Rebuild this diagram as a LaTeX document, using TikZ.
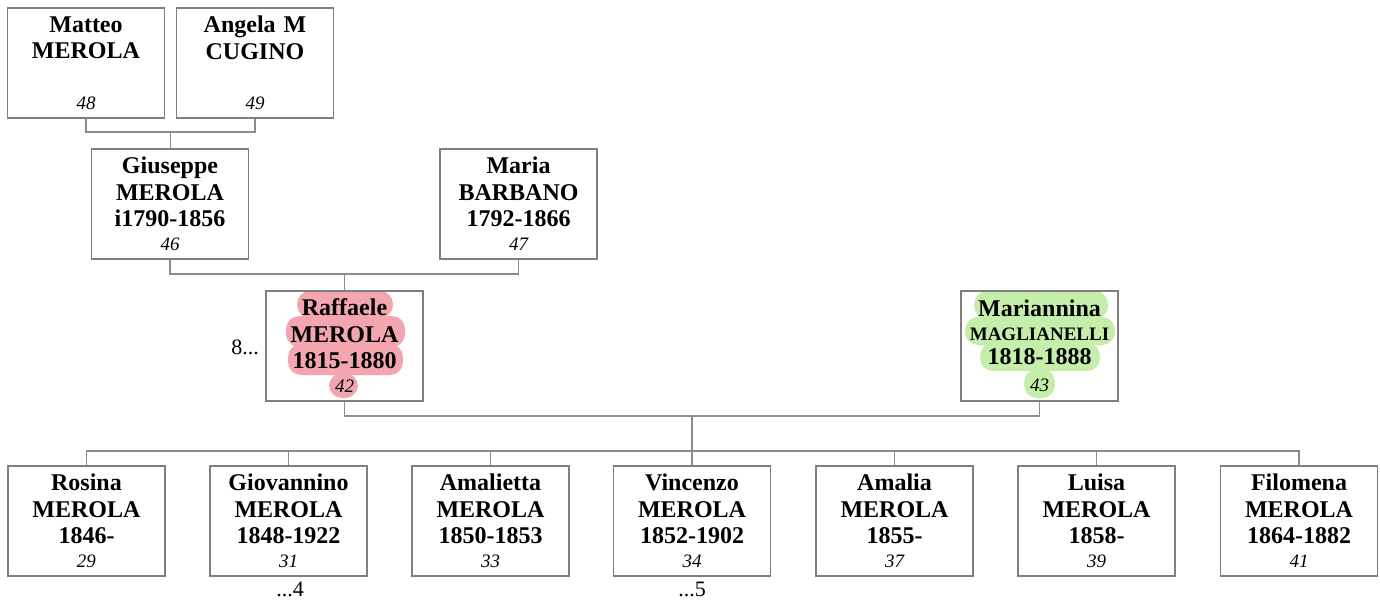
\documentclass[tikz,border=0pt]{standalone}
\usepackage{fontspec}
\setmainfont{Liberation Serif}
\usetikzlibrary{backgrounds}
\definecolor{FTBorder}{HTML}{7F7F7F}
\definecolor{FTLine}{HTML}{8C8C8C}
\definecolor{FTPink}{HTML}{F4A6B0}
\definecolor{FTGreen}{HTML}{C4EEAA}
\newcommand{\pnum}[1]{{\normalfont\fontsize{9.5}{10}\selectfont\itshape #1}}
\tikzset{
  person/.style={
    draw=FTBorder,
    line width=.6pt,
    minimum width=78.5pt,
    minimum height=55pt,
    text width=77pt,
    align=center,
    inner sep=0pt,
    font=\fontsize{12}{13.25}\selectfont\bfseries
  },
  link/.style={draw=FTLine,line width=.6pt},
  tag/.style={font=\fontsize{11}{12}\selectfont,inner sep=0pt},
  blob/.style={rounded corners=6.5pt}
}

\begin{document}
\begin{tikzpicture}[x=.5pt,y=-.5pt]
  \useasboundingbox (0,0) rectangle (1380,604);

  % Grandparents.
  \node[person] (matteo) at (86,63) {Matteo\\MEROLA\\\phantom{0}\\[-1.25pt]\pnum{48}};
  \node[person] (angela) at (255,63) {Angela M\\CUGINO\\\phantom{0}\\[-1.25pt]\pnum{49}};

  % Parents of Raffaele.
  \node[person] (giuseppe) at (170,204) {Giuseppe\\MEROLA\\i1790-1856\\[-1.25pt]\pnum{46}};
  \node[person] (maria) at (518.5,204) {Maria\\BARBANO\\1792-1866\\[-1.25pt]\pnum{47}};

  % The couple.
  \node[person] (raffaele) at (344.5,346) {Raffaele\\MEROLA\\1815-1880\\[-1.25pt]\pnum{42}};
  \node[person] (mariannina) at (1039.5,346)
    {Mariannina\\[-1.5pt]{\fontsize{9.5}{11}\selectfont MAGLIANELLI}\\[-1pt]1818-1888\\[.25pt]\pnum{43}};
  \node[tag] (more8) at (245,347) {8...};

  % Children.
  \foreach \i/\x/\first/\dates/\num in {
    1/86.5/Rosina/1846-/29,2/288.5/Giovannino/1848-1922/31,
    3/490.5/Amalietta/1850-1853/33,4/692/Vincenzo/1852-1902/34,
    5/894.5/Amalia/1855-/37,6/1096.5/Luisa/1858-/39,
    7/1299/Filomena/1864-1882/41}{
    \node[person] (c\i) at (\x,521) {\first\\MEROLA\\\dates\\[-1.25pt]\pnum{\num}};
  }
  \node[tag] (more4) at (290,589) {...4};
  \node[tag] (more5) at (692,589) {...5};

  % Highlights behind the couple's texts.
  \begin{scope}[on background layer]
    \foreach \xa/\ya/\xb/\yb in {297/291/393/318,286/316/405/347,288/344/403/375,329/373/358/398}
      \fill[FTPink,blob] (\xa,\ya) rectangle (\xb,\yb);
    \foreach \xa/\ya/\xb/\yb in {974/291/1108/319,965/317/1115/345,980/343/1100/371,1024/369/1055/398}
      \fill[FTGreen,blob] (\xa,\ya) rectangle (\xb,\yb);
  \end{scope}

  % Family connectors.
  \coordinate (fam1) at (170.5,132);
  \draw[link] (matteo.south) |- (fam1) -| (angela.south);
  \draw[link] (fam1) -- (fam1 |- giuseppe.north);

  \coordinate (fam2) at (344.5,274);
  \draw[link] (giuseppe.south) |- (fam2) -| (maria.south);
  \draw[link] (fam2) -- (raffaele.north);

  \coordinate (fam3) at (692,416);
  \coordinate (sib) at (692,451);
  \draw[link] (raffaele.south) |- (fam3) -| (mariannina.south);
  \draw[link] (fam3) -- (sib);
  \draw[link] (c1.north) |- (sib) -| (c7.north);
  \foreach \i in {2,...,6}
    \draw[link] (c\i.north) -- (c\i.north |- sib);
\end{tikzpicture}
\end{document}
